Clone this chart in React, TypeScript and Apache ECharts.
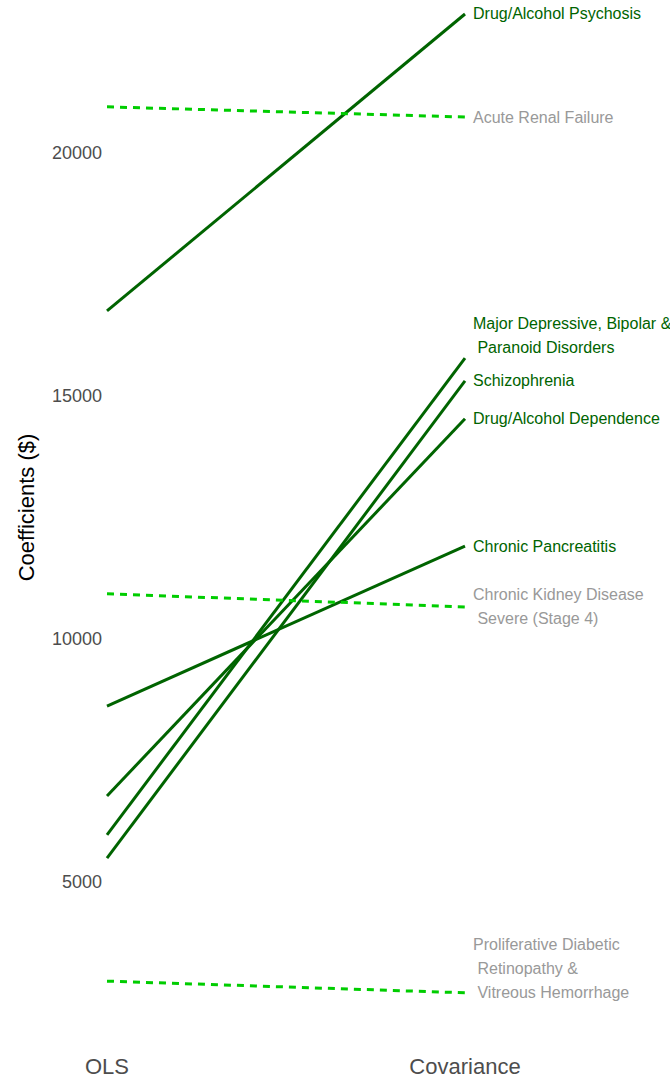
import React, { useEffect, useRef } from "react";
import * as echarts from "echarts";

const categories = ["OLS", "Covariance"];
const conditionNames = [
  "Drug/Alcohol Psychosis",
  "Acute Renal Failure",
  "Major Depressive, Bipolar &\n Paranoid Disorders",
  "Schizophrenia",
  "Drug/Alcohol Dependence",
  "Chronic Pancreatitis",
  "Chronic Kidney Disease\n Severe (Stage 4)",
  "Proliferative Diabetic\n Retinopathy &\n Vitreous Hemorrhage",
];
const olsValues = [16750, 20950, 5970, 5490, 6770, 8620, 10930, 2960];
const covarianceValues = [22860, 20740, 15780, 15310, 14530, 11910, 10660, 2720];
const increased = [true, false, true, true, true, true, false, false];
const yTicks = [5000, 10000, 15000, 20000];

export default function App() {
  const ref = useRef<HTMLDivElement>(null);
  useEffect(() => {
    if (!ref.current) return;
    const chart = echarts.init(ref.current, null, { renderer: "svg" });
    const font = "Liberation Sans, Arial, Helvetica, sans-serif";
    const labelOffsets: Record<number, number> = { 2: -23, 7: -24 };
    const series = conditionNames.map((name, i) => {
      const up = increased[i];
      return {
        type: "line",
        name,
        clip: false,
        symbol: "none",
        showSymbol: false,
        silent: true,
        lineStyle: {
          color: up ? "#006400" : "#00CD00",
          width: 3,
          type: up ? "solid" : [7, 6],
          cap: "butt",
        },
        itemStyle: { color: up ? "#006400" : "#00CD00" },
        endLabel: {
          show: true,
          distance: 8,
          offset: [0, labelOffsets[i] || 0],
          formatter: () => name,
          color: up ? "#006400" : "#999999",
          fontSize: 16,
          lineHeight: 24,
          fontFamily: font,
        },
        data: [olsValues[i], covarianceValues[i]],
      };
    });
    chart.setOption({
      animation: false,
      backgroundColor: "#ffffff",
      grid: { left: 107, right: 205, top: 0, bottom: 33, containLabel: false },
      xAxis: {
        type: "category",
        data: categories,
        boundaryGap: false,
        axisLine: { show: false },
        axisTick: { show: false },
        splitLine: { show: false },
        axisLabel: {
          color: "#4d4d4d",
          fontSize: 22,
          fontFamily: font,
          margin: 10,
        },
      },
      yAxis: {
        type: "value",
        min: 1646,
        max: 23148,
        name: "Coefficients ($)",
        nameLocation: "middle",
        nameRotate: 90,
        nameGap: 70,
        nameTextStyle: {
          color: "#000000",
          fontSize: 22,
          fontFamily: font,
          padding: [0, 0, 0, 30],
        },
        axisLine: { show: false },
        axisTick: { show: false },
        splitLine: { show: false },
        axisLabel: {
          customValues: yTicks,
          formatter: (v: number) => String(v),
          color: "#4d4d4d",
          fontSize: 18,
          fontFamily: font,
          margin: 5,
        },
      },
      series,
    });
    return () => chart.dispose();
  }, []);
  return (
    <div
      ref={ref}
      style={{ position: "absolute", left: 0, top: 0, width: 670, height: 1078 }}
    />
  );
}
